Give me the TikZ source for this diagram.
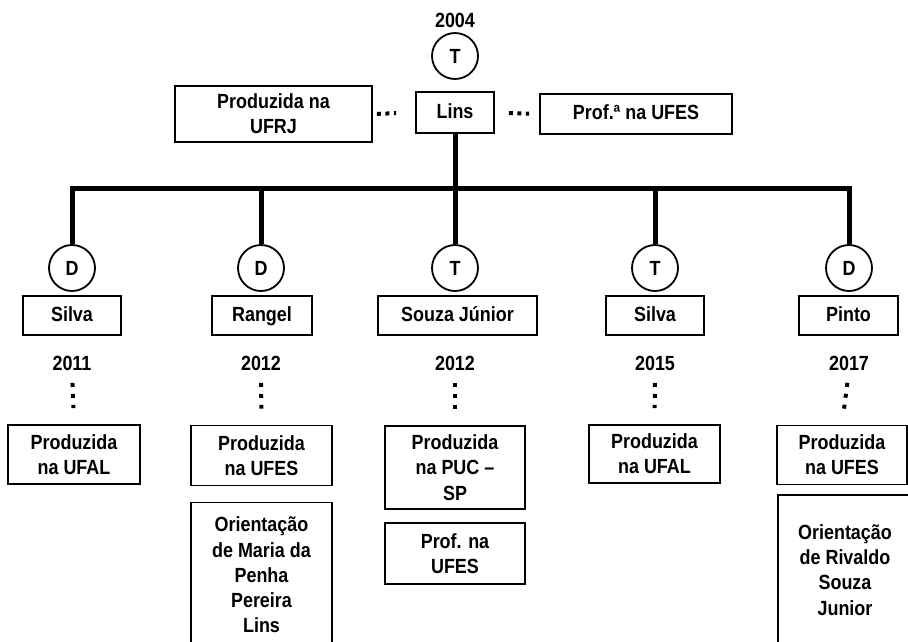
\documentclass[tikz,border=0pt]{standalone}
\usepackage{fontspec}
\setmainfont{Liberation Sans}[FakeStretch=0.875]
\providecommand{\ltStroke}{black}
\usetikzlibrary{calc,positioning}
\tikzset{
  txt/.style={font=\fontsize{20.5}{25.3}\selectfont\bfseries,align=center,inner sep=0pt},
  blk/.style 2 args={draw=\ltStroke,line width=1.8pt,minimum width=#1,minimum height=#2,txt},
  oneline/.style={text height=15pt,text depth=4pt},
  deg/.style={draw=\ltStroke,circle,line width=1.8pt,minimum size=46pt,inner sep=0pt,txt},
  trunk/.style={draw=\ltStroke,line width=5pt},
  % ellipsis links drawn as square dots
  hdots/.style={draw=\ltStroke,line width=4pt,dash pattern=on 4pt off 4.5pt},
  vdots/.style={draw=\ltStroke,line width=4pt,dash pattern=on 4pt off 7pt,shorten <=12.5pt,shorten >=16pt},
}
\begin{document}
\begin{tikzpicture}
\useasboundingbox (0pt,0pt) rectangle (908pt,-641pt);
\clip (0pt,0pt) rectangle (908pt,-641pt);
% --- Root ------------------------------------------------------------------

  \node[txt] (yr0) at (455pt,-20pt) {2004};

  \node[deg] (deg0) at (455pt,-56pt) {T};

  \node[blk={78pt}{41pt},oneline] (lins) at (455pt,-112.5pt) {Lins};

  \node[blk={197pt}{56pt}] (ufrj) at (273.5pt,-114pt) {Produzida na\\UFRJ};

  \node[blk={192pt}{40pt},oneline] (profa) at (636pt,-114pt) {Prof.ª na UFES};

  \coordinate (hub) at (455pt,-188pt);

% --- Children --------------------------------------------------------------

  \node[deg] (deg1) at (72pt,-268pt) {D};
  \node[deg] (deg2) at (261pt,-268pt) {D};
  \node[deg] (deg3) at (455pt,-268pt) {T};
  \node[deg] (deg4) at (655pt,-268pt) {T};
  \node[deg] (deg5) at (849pt,-268pt) {D};

  \node[blk={98pt}{39pt},oneline] (name1) at (72pt,-315.5pt) {Silva};
  \node[blk={100pt}{39pt},oneline] (name2) at (262pt,-315.5pt) {Rangel};
  \node[blk={159pt}{39pt},oneline] (name3) at (457.5pt,-315.5pt) {Souza Júnior};
  \node[blk={98pt}{39pt},oneline] (name4) at (655pt,-315.5pt) {Silva};
  \node[blk={99pt}{39pt},oneline] (name5) at (848.5pt,-315.5pt) {Pinto};

  \node[txt] (yr1) at (72pt,-363pt) {2011};
  \node[txt] (yr2) at (261pt,-363pt) {2012};
  \node[txt] (yr3) at (455pt,-363pt) {2012};
  \node[txt] (yr4) at (655pt,-363pt) {2015};
  \node[txt] (yr5) at (849pt,-363pt) {2017};

  \node[blk={132pt}{59pt}] (inst1) at (74pt,-454.5pt) {Produzida\\na UFAL};
  \node[blk={141pt}{60pt}] (inst2) at (261.5pt,-455.5pt) {Produzida\\na UFES};
  \node[blk={140pt}{83pt}] (inst3) at (455pt,-467.5pt) {Produzida\\na PUC –\\SP};
  \node[blk={131pt}{58pt}] (inst4) at (654.5pt,-454pt) {Produzida\\na UFAL};
  \node[blk={130pt}{59pt}] (inst5) at (842pt,-455pt) {Produzida\\na UFES};

  \node[blk={141pt}{145pt}] (ori2) at (261.5pt,-575pt) {Orientação\\de Maria da\\Penha\\Pereira\\Lins};
  \node[blk={140pt}{61pt}] (prof3) at (455pt,-553.5pt) {Prof. na\\UFES};
  \node[blk={134pt}{150pt}] (ori5) at (845pt,-570pt) {Orientação\\de Rivaldo\\Souza\\Junior};

% --- Edges -----------------------------------------------------------------

  \path[hdots,shorten <=4pt,shorten >=19pt] (ufrj.east) -- (lins.west);
  \path[hdots,shorten <=14pt,shorten >=10pt] (lins.east) -- (profa.west);

  \path[trunk] (lins.south) -- (hub);
  \foreach \i in {1,...,5}
    \path[trunk] (hub) -| (deg\i.north);

  \foreach \i in {1,...,5}
    \path[vdots] (yr\i.south) -- (inst\i.north);

\end{tikzpicture}
\end{document}
